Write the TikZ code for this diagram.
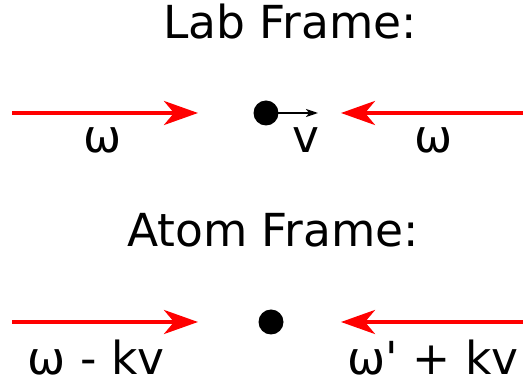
\documentclass[tikz,border=0pt]{standalone}
\usepackage{fontspec}
\setmainfont{DejaVu Sans}[Ligatures=TeXOff]
\usetikzlibrary{arrows.meta}
\tikzset{
  lbl/.style={anchor=base, inner sep=0pt, font=\fontsize{45.5}{50}\selectfont},
  beam/.style={draw=red, line width=4pt, -{Stealth[length=34pt, width=24pt, inset=10pt, fill=red]}},
  atom/.style={circle, fill=black, minimum size=25pt, inner sep=0pt},
  vel/.style={draw=black, line width=1.6pt, -{Stealth[length=12pt, width=8pt, inset=3pt]}}
}
\begin{document}
\begin{tikzpicture}[x=1pt, y=-1pt]
  \useasboundingbox (0,0) rectangle (523,387);
  % Lab frame
  \node[lbl] (labtitle) at (290,39) {Lab Frame:};
  \coordinate (l1s) at (12,113);
  \coordinate (l1e) at (198,113);
  \coordinate (r1s) at (523,113);
  \coordinate (r1e) at (341,113);
  \draw[beam] (l1s) -- (l1e);
  \draw[beam] (r1s) -- (r1e);
  \node[atom] (atom1) at (266,113) {};
  \coordinate (v1e) at (318,113);
  \draw[vel] (atom1.center) -- (v1e);
  \node[lbl] (w1) at (103,153) {ω};
  \node[lbl] (v1) at (306,153) {v};
  \node[lbl] (w2) at (434,153) {ω};
  % Atom frame
  \node[lbl] (atomtitle) at (273,247) {Atom Frame:};
  \coordinate (l2s) at (12,322);
  \coordinate (l2e) at (198,322);
  \coordinate (r2s) at (523,322);
  \coordinate (r2e) at (341,322);
  \draw[beam] (l2s) -- (l2e);
  \draw[beam] (r2s) -- (r2e);
  \node[atom] (atom2) at (271,322) {};
  \node[lbl] (w3) at (96,375) {ω - kv};
  \node[lbl] (w4) at (433,375) {ω' + kv};
\end{tikzpicture}
\end{document}
